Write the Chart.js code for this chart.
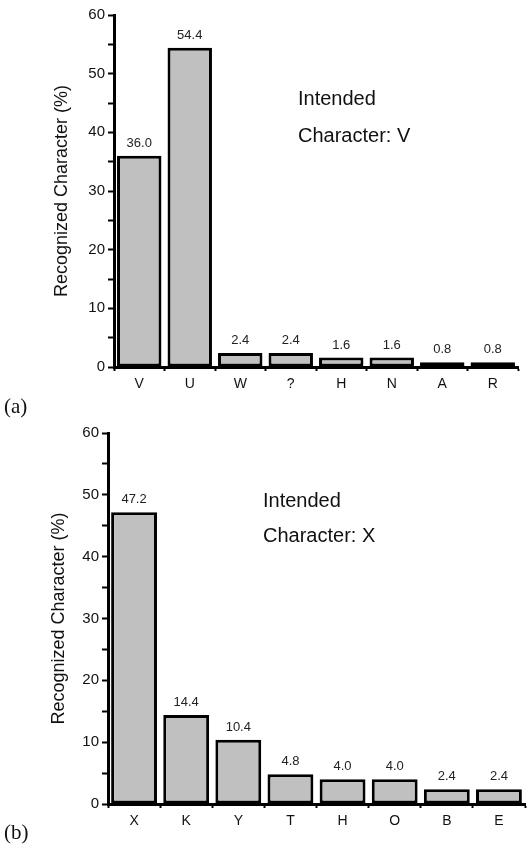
<!DOCTYPE html>
<html>
<head>
<meta charset="utf-8">
<script src="https://cdn.jsdelivr.net/npm/chart.js@4/dist/chart.umd.min.js"></script>
<style>
  body { margin: 0; background: #fff; width: 527px; height: 852px; position: relative; overflow: hidden; }
  canvas { position: absolute; left: 0; }
  .note { position: absolute; font-family: "Liberation Sans", Arial, sans-serif; font-size: 20px; line-height: 20px; color: #111; white-space: nowrap; }
  .panel { position: absolute; font-family: "Liberation Serif", "Times New Roman", serif; font-size: 21px; line-height: 21px; color: #111; }
</style>
</head>
<body>
<canvas id="chartA" width="527" height="395" style="top:0"></canvas>
<canvas id="chartB" width="527" height="432" style="top:420px"></canvas>

<div class="note" style="left:298px; top:88px">Intended</div>
<div class="note" style="left:298px; top:125px">Character: V</div>
<div class="note" style="left:263px; top:490px">Intended</div>
<div class="note" style="left:263px; top:525px">Character: X</div>
<div class="panel" style="left:4px; top:396px">(a)</div>
<div class="panel" style="left:4px; top:822px">(b)</div>

<script>
// DATA
const charsA = ['V', 'U', 'W', '?', 'H', 'N', 'A', 'R'];
const percentA = [36.0, 54.4, 2.4, 2.4, 1.6, 1.6, 0.8, 0.8];

const charsB = ['X', 'K', 'Y', 'T', 'H', 'O', 'B', 'E'];
const percentB = [47.2, 14.4, 10.4, 4.8, 4.0, 4.0, 2.4, 2.4];

const yMin = 0, yMax = 60, yStep = 5, yLabelEvery = 10;
const yTitle = 'Recognized Character (%)';

const FONT = '"Liberation Sans", Arial, sans-serif';

// value labels above bars
const valueLabels = {
  id: 'valueLabels',
  afterDatasetsDraw(chart) {
    const ctx = chart.ctx;
    const meta = chart.getDatasetMeta(0);
    ctx.save();
    ctx.font = '13px ' + FONT;
    ctx.fillStyle = '#222';
    ctx.textAlign = 'center';
    ctx.textBaseline = 'alphabetic';
    meta.data.forEach((bar, i) => {
      ctx.fillText(chart.data.datasets[0].data[i].toFixed(1), bar.x, bar.y - 9);
    });
    ctx.restore();
  }
};

function makeChart(id, labels, values, opts) {
  return new Chart(document.getElementById(id), {
    type: 'bar',
    data: {
      labels: labels,
      datasets: [{
        data: values,
        backgroundColor: '#c0c0c0',
        borderColor: '#000',
        borderWidth: 3,
        borderSkipped: false,
        barPercentage: 0.88,
        categoryPercentage: 1.0
      }]
    },
    options: {
      responsive: false,
      devicePixelRatio: 1,
      animation: false,
      events: [],
      layout: { padding: { top: opts.top, right: opts.right, bottom: 0, left: opts.left } },
      plugins: { legend: { display: false }, tooltip: { enabled: false } },
      scales: {
        x: {
          offset: true,
          afterFit: s => { s.height = opts.xHeight; },
          grid: { offset: true, drawOnChartArea: false, drawTicks: true, tickLength: 4, color: '#000', tickWidth: 2 },
          border: { color: '#000', width: 3 },
          ticks: { color: '#111', font: { family: FONT, size: 14 }, padding: 5, maxRotation: 0 }
        },
        y: {
          min: yMin,
          max: yMax,
          afterFit: s => { s.width = opts.yWidth; },
          grid: { drawOnChartArea: false, drawTicks: true, tickLength: 6, color: '#000', tickWidth: 2 },
          border: { color: '#000', width: 3 },
          ticks: {
            stepSize: yStep,
            autoSkip: false,
            color: '#111',
            font: { family: FONT, size: 15 },
            padding: 3,
            callback: v => (v % yLabelEvery === 0 ? v : '')
          },
          title: {
            display: true,
            text: yTitle,
            color: '#111',
            font: { family: FONT, size: 18 },
            padding: { top: opts.titlePad, bottom: 0 }
          }
        }
      }
    },
    plugins: [valueLabels]
  });
}

makeChart('chartA', charsA, percentA, { top: 15, right: 9, left: 51, yWidth: 63, xHeight: 28, titlePad: 0 });
makeChart('chartB', charsB, percentB, { top: 13, right: 2, left: 45, yWidth: 63, xHeight: 48, titlePad: 3 });
</script>
</body>
</html>
